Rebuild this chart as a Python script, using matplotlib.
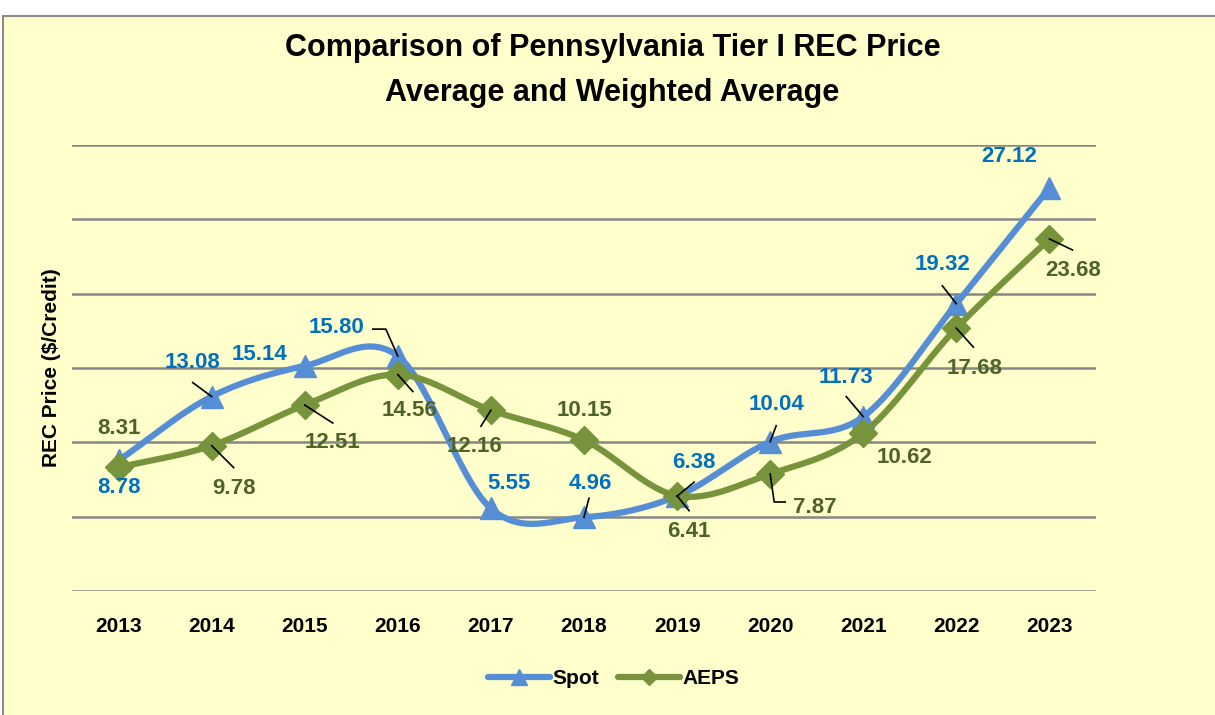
import matplotlib.pyplot as plt
import matplotlib.transforms as mtransforms
from matplotlib.patches import Rectangle
import numpy as np

years = ["2013", "2014", "2015", "2016", "2017", "2018", "2019", "2020", "2021", "2022", "2023"]
spot = [8.78, 13.08, 15.14, 15.80, 5.55, 4.96, 6.38, 10.04, 11.73, 19.32, 27.12]
aeps = [8.31, 9.78, 12.51, 14.56, 12.16, 10.15, 6.41, 7.87, 10.62, 17.68, 23.68]

# label offsets from the point, in pixels (dx right, dy down)
spot_lab = [(0, 27), (-19, -34), (-45, -11), (-61, -29), (18, -25), (6, -34), (17, -34), (6, -37), (-17, -39), (-14, -39), (-40, -31)]
aeps_lab = [(0, -39), (22, 43), (28, 37), (12, 36), (-16, 36), (1, -30), (12, 36), (45, 34), (41, 24), (18, 40), (24, 32)]
# leader lines, pixel offsets from the point
spot_lead = [None, [(-19, -14), (0, 0)], None, [(-25, -27), (-12, -27), (0, 0)], None,
             [(5, -19), (0, 0)], [(17, -14), (0, 0)], [(6, -16), (0, 0)], [(-17, -20), (0, 0)],
             [(-14, -18), (0, 0)], None]
aeps_lead = [None, [(0, 0), (22, 22)], [(0, 0), (28, 18)], [(0, 0), (15, 17)], [(0, 0), (-10, 16)],
             None, [(0, 0), (12, 15)], [(0, 0), (4, 28), (15, 28)], None, [(0, 0), (17, 19)],
             [(0, 0), (23, 11)]]

BLUE = "#558ED5"
GREEN = "#77933C"
BLUE_TXT = "#0070C0"
GREEN_TXT = "#4F6228"
FONT = ["Liberation Sans Narrow", "Liberation Sans", "DejaVu Sans"]

plt.rcParams["font.family"] = FONT
plt.rcParams["font.weight"] = "bold"


def smooth(y, n=30):
    # Catmull-Rom curve through the points, like Excel's smoothed line
    y = np.asarray(y, dtype=float)
    x = np.arange(len(y), dtype=float)
    p = np.concatenate([[2 * y[0] - y[1]], y, [2 * y[-1] - y[-2]]])
    xs, ys = [], []
    for i in range(len(y) - 1):
        t = np.linspace(0, 1, n, endpoint=False)
        p0, p1, p2, p3 = p[i], p[i + 1], p[i + 2], p[i + 3]
        c = 0.5 * ((2 * p1) + (-p0 + p2) * t + (2 * p0 - 5 * p1 + 4 * p2 - p3) * t ** 2
                   + (-p0 + 3 * p1 - 3 * p2 + p3) * t ** 3)
        xs.extend(x[i] + t)
        ys.extend(c)
    xs.append(x[-1])
    ys.append(y[-1])
    return np.array(xs), np.array(ys)


fig = plt.figure(figsize=(12.15, 7.15), dpi=100)
fig.patch.set_facecolor("white")
fig.patches.append(Rectangle((3 / 1215, -0.01), 1.02, (715 - 16) / 715 + 0.01, transform=fig.transFigure,
                             facecolor="#FFFFCC", edgecolor="#8C8C8C", linewidth=1.5, zorder=-10))

ax = fig.add_axes([72 / 1215, (715 - 591) / 715, (1096 - 72) / 1215, (591 - 145) / 715])
ax.set_facecolor("none")
ax.set_xlim(-0.5, 10.5)
ax.set_ylim(0, 30)
ax.set_yticks(np.arange(0, 31, 5))
ax.yaxis.grid(True, color="#868686", linewidth=1.8)
ax.set_axisbelow(True)
for s in ax.spines.values():
    s.set_visible(False)
ax.tick_params(axis="y", length=0, labelleft=False)
ax.tick_params(axis="x", length=0, pad=19, labelsize=15)
ax.set_xticks(range(len(years)))
ax.set_xticklabels(years, fontweight="bold")
ax.set_ylabel("REC Price ($/Credit)", fontsize=15, fontweight="bold", labelpad=8)

xi = np.arange(len(years))
sx, sy = smooth(spot)
ax.plot(sx, sy, color=BLUE, lw=4.5, solid_capstyle="round", zorder=3)
ax.plot(xi, spot, ls="none", marker="^", ms=16, color=BLUE, zorder=3)
ax.plot([], [], color=BLUE, lw=4.5, marker="^", ms=11, label="Spot", solid_capstyle="round")
gx, gy = smooth(aeps)
ax.plot(gx, gy, color=GREEN, lw=4.5, solid_capstyle="round", zorder=4)
ax.plot(xi, aeps, ls="none", marker="D", ms=14, color=GREEN, zorder=4)
ax.plot([], [], color=GREEN, lw=4.5, marker="D", ms=8, label="AEPS", solid_capstyle="round")

ident = mtransforms.IdentityTransform()
for vals, labs, leads, col in [(spot, spot_lab, spot_lead, BLUE_TXT), (aeps, aeps_lab, aeps_lead, GREEN_TXT)]:
    for i, v in enumerate(vals):
        dx, dy = labs[i]
        ax.annotate(f"{v:.2f}", (i, v), xytext=(dx, -dy), textcoords="offset pixels",
                    ha="center", va="center", fontsize=16, fontweight="bold", color=col, zorder=6)
        if leads[i]:
            px, py = ax.transData.transform((i, v))
            lx = [px + a for a, b in leads[i]]
            ly = [py - b for a, b in leads[i]]
            ax.add_line(plt.Line2D(lx, ly, transform=ident, color="black", lw=1.2, zorder=5))

fig.text(0.504, 1 - 48 / 715, "Comparison of Pennsylvania Tier I REC Price", ha="center", va="center",
         fontsize=22, fontweight="bold")
fig.text(0.504, 1 - 93 / 715, "Average and Weighted Average", ha="center", va="center",
         fontsize=22, fontweight="bold")

leg = fig.legend(loc="center", bbox_to_anchor=(0.505, 1 - 679 / 715), ncol=2, frameon=False,
                 handlelength=3.0, columnspacing=0.9, handletextpad=0.1,
                 prop={"size": 15, "weight": "bold"})

fig.savefig("out.png", dpi=100, facecolor=fig.get_facecolor())
